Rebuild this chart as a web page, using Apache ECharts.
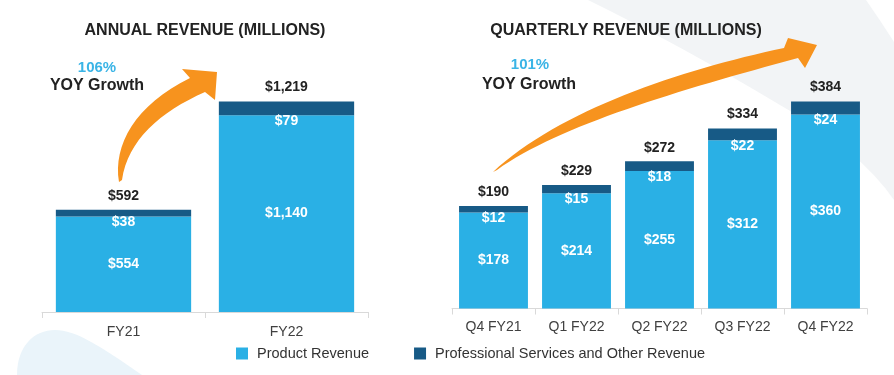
<!DOCTYPE html>
<html>
<head>
<meta charset="utf-8">
<script src="https://cdn.jsdelivr.net/npm/echarts@6/dist/echarts.min.js"></script>
<style>
  html, body { margin: 0; padding: 0; background: #fff; }
  #chart { width: 894px; height: 375px; }
</style>
</head>
<body>
<div id="chart"></div>
<script>
// annual chart
const annualCats = ['FY21', 'FY22'];
const annualProduct = [554, 1140];
const annualServices = [38, 79];
const annualTotals = [592, 1219];

// quarterly chart
const quarterCats = ['Q4 FY21', 'Q1 FY22', 'Q2 FY22', 'Q3 FY22', 'Q4 FY22'];
const quarterProduct = [178, 214, 255, 312, 360];
const quarterServices = [12, 15, 18, 22, 24];
const quarterTotals = [190, 229, 272, 334, 384];

const PRODUCT = '#2AB0E5';
const SERVICES = '#175A86';
const ORANGE = '#F7931E';
const FONT = "'Liberation Sans', Arial, sans-serif";

const money = v => '$' + v.toLocaleString('en-US');

// decorative shapes (graphic component has no plain 'path' type)
const shapes = {
  bgLeft: 'M17,375 C17,346 34,330 55,330 C76,330 100,346 142,375 Z',
  bgRight: 'M588,0 L866,0 Q880,20 894,42 L894,200 Q860,150 780,105 Q680,45 588,0 Z',
  arrowLeft: 'M119,182 C113,145 135,105 190,78 L182,69 L217,72 L215,100 L205,92 C160,112 128,140 122,180 Z',
  arrowRight: 'M493,172 C560,110 680,70 784,48 L788,38 L817,45 L805,68 L798,58 C680,90 560,125 497,170 Z'
};
Object.keys(shapes).forEach(k => {
  echarts.graphic.registerShape(k, echarts.graphic.extendPath(shapes[k], {}));
});

const catAxis = (idx, data, margin) => ({
  type: 'category',
  gridIndex: idx,
  data: data,
  axisLine: { lineStyle: { color: '#d9d9d9', width: 1 } },
  axisTick: { show: true, length: 6, lineStyle: { color: '#d9d9d9' } },
  axisLabel: { color: '#404040', fontSize: 14, fontFamily: FONT, margin: margin }
});

const valAxis = (idx, max) => ({
  type: 'value', gridIndex: idx, min: 0, max: max, show: false,
  splitLine: { show: false }
});

function stackSeries(idx, product, services, totals) {
  const base = {
    type: 'bar', xAxisIndex: idx, yAxisIndex: idx,
    barWidth: '83%', barGap: '-100%'
  };
  return [
    Object.assign({}, base, {
      name: 'Product Revenue', stack: 's' + idx, data: product,
      itemStyle: { color: PRODUCT },
      label: {
        show: true, position: 'inside', color: '#fff', fontSize: 14,
        fontWeight: 'bold', fontFamily: FONT, formatter: p => money(p.value)
      }
    }),
    Object.assign({}, base, {
      name: 'Professional Services and Other Revenue', stack: 's' + idx, data: services,
      itemStyle: { color: SERVICES },
      label: {
        show: true, position: 'bottom', distance: -1, color: '#fff', fontSize: 14,
        fontWeight: 'bold', fontFamily: FONT, formatter: p => money(p.value)
      }
    }),
    Object.assign({}, base, {
      name: 'Total', data: totals, z: 1,
      itemStyle: { color: 'rgba(0,0,0,0)' },
      label: {
        show: true, position: 'top', distance: 7, color: '#222', fontSize: 14,
        fontWeight: 'bold', fontFamily: FONT, formatter: p => money(p.value)
      }
    })
  ];
}

const txt = (x, y, text, size, color) => ({
  type: 'text', x: x, y: y, z: 50,
  style: {
    text: text, fill: color, font: 'bold ' + size + 'px ' + FONT,
    textAlign: 'center', textVerticalAlign: 'middle'
  }
});

const chart = echarts.init(document.getElementById('chart'));
chart.setOption({
  backgroundColor: '#fff',
  animation: false,
  grid: [
    { left: 42, width: 326, top: 60, bottom: 63 },
    { left: 452, width: 415, top: 60, bottom: 66.5 }
  ],
  xAxis: [catAxis(0, annualCats, 13), catAxis(1, quarterCats, 12)],
  yAxis: [valAxis(0, 1460), valAxis(1, 461)],
  legend: {
    data: ['Product Revenue', 'Professional Services and Other Revenue'],
    left: 236, top: 346, padding: 0, itemWidth: 12, itemHeight: 12, itemGap: 45,
    icon: 'rect',
    textStyle: { color: '#333', fontSize: 14.5, fontFamily: FONT, padding: [0, 0, 0, 4] }
  },
  graphic: [
    { type: 'bgLeft', z: -10, style: { fill: '#EAF4FA' } },
    { type: 'bgRight', z: -10, style: { fill: '#F2F4F6' } },
    { type: 'arrowLeft', z: 40, style: { fill: ORANGE } },
    { type: 'arrowRight', z: 40, style: { fill: ORANGE } },
    txt(205, 31, 'ANNUAL REVENUE (MILLIONS)', 16, '#222'),
    txt(626, 31, 'QUARTERLY REVENUE (MILLIONS)', 16, '#222'),
    txt(97, 68, '106%', 15, '#3AB4E6'),
    txt(97, 86, 'YOY Growth', 16, '#222'),
    txt(530, 65, '101%', 15, '#3AB4E6'),
    txt(529, 85, 'YOY Growth', 16, '#222')
  ],
  series: stackSeries(0, annualProduct, annualServices, annualTotals)
    .concat(stackSeries(1, quarterProduct, quarterServices, quarterTotals))
});
</script>
</body>
</html>
